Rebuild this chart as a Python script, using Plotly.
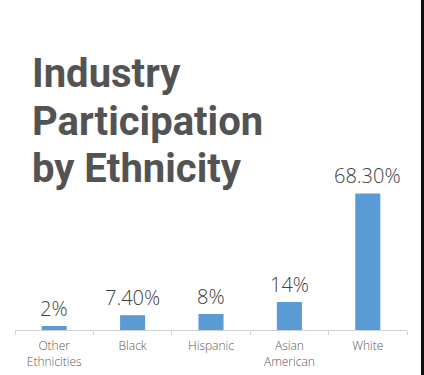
import plotly.graph_objects as go

categories = ["Other Ethnicities", "Black", "Hispanic", "Asian American", "White"]
tick_labels = ["Other<br>Ethnicities", "Black", "Hispanic", "Asian<br>American", "White"]
values = [2, 7.4, 8, 14, 68.3]
value_labels = ["2%", "7.40%", "8%", "14%", "68.30%"]
title_lines = ["Industry", "Participation", "by Ethnicity"]

W, H = 424, 375
ML, MR, MT, MB = 15, 17, 50, 45

fig = go.Figure()
fig.add_trace(go.Bar(
    x=categories, y=values,
    marker=dict(color="#5B9BD5", line=dict(width=0)),
    width=0.32,
    hoverinfo="skip",
))

for c, v, t in zip(categories, values, value_labels):
    fig.add_annotation(
        x=c, y=v, xref="x", yref="y", text=t, showarrow=False,
        yanchor="bottom", yshift=2,
        font=dict(family="Open Sans", size=20, color="#404040", weight=300),
    )

plot_w = W - ML - MR
plot_h = H - MT - MB
baselines = [87, 135, 182]
for line, b in zip(title_lines, baselines):
    fig.add_annotation(
        x=(30 - ML) / plot_w, y=1 - (b - MT) / plot_h, xref="paper", yref="paper",
        xanchor="left", yanchor="bottom", align="left", showarrow=False,
        yshift=-12,
        text=line,
        font=dict(family="Roboto", size=40, color="#535353", weight=700),
    )

# dark right border strip
fig.add_shape(type="rect", xref="paper", yref="paper",
              x0=(421 - ML) / plot_w, x1=(440 - ML) / plot_w, y0=-1, y1=2,
              fillcolor="#111111", line=dict(width=0), layer="above")

fig.update_layout(
    width=W, height=H,
    margin=dict(l=ML, r=MR, t=MT, b=MB, pad=0, autoexpand=False),
    paper_bgcolor="white", plot_bgcolor="white",
    showlegend=False,
    xaxis=dict(
        tickmode="array", tickvals=categories, ticktext=tick_labels,
        tickson="boundaries", ticks="outside", ticklen=4, tickcolor="#d0d0d0",
        showline=True, linecolor="#d0d0d0", linewidth=1,
        showgrid=False, zeroline=False, automargin=False,
        ticklabelstandoff=5,
        tickfont=dict(family="Open Sans", size=12, color="#595959", weight=300),
        fixedrange=True,
    ),
    yaxis=dict(range=[0, 140], visible=False, fixedrange=True, automargin=False),
)

fig.write_html("out.html", config={"displayModeBar": False},
               post_script="document.body.style.margin='0';document.body.style.overflow='hidden';")
